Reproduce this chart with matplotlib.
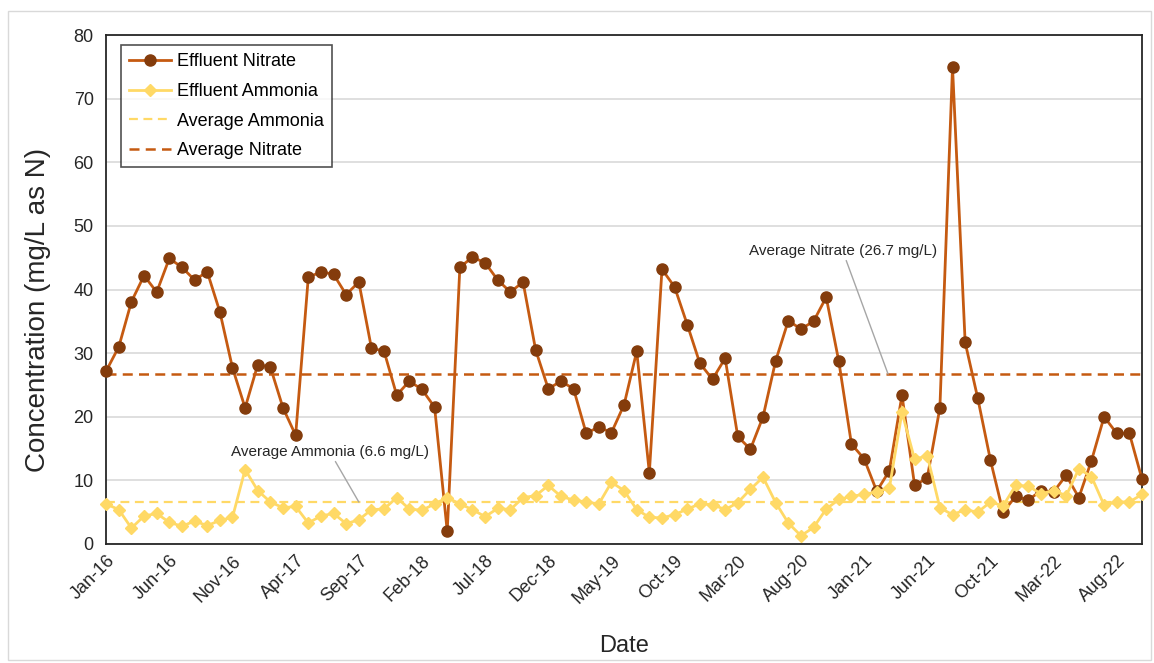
import matplotlib.pyplot as plt
from matplotlib.patches import Rectangle

# monthly effluent data (mg/L as N)
nitrate = [27.2, 31.0, 38.1, 42.2, 39.6, 44.9, 43.5, 41.5, 42.8, 36.5,
           27.7, 21.4, 28.2, 27.8, 21.4, 17.1, 41.9, 42.8, 42.4, 39.2,
           41.2, 30.8, 30.3, 23.4, 25.6, 24.3, 21.5, 2.0, 43.5, 45.1,
           44.2, 41.5, 39.6, 41.2, 30.5, 24.4, 25.6, 24.4, 17.4, 18.4,
           17.5, 21.9, 30.3, 11.2, 43.2, 40.4, 34.5, 28.4, 25.9, 29.2,
           16.9, 14.9, 20.0, 28.8, 35.1, 33.8, 35.0, 38.8, 28.7, 15.7,
           13.4, 8.3, 11.5, 23.4, 9.2, 10.4, 21.4, 75.0, 31.7, 22.9,
           13.2, 5.0, 7.5, 6.9, 8.4, 8.2, 10.8, 7.3, 13.1, 20.0,
           17.4, 17.4, 10.2]
ammonia = [6.3, 5.4, 2.5, 4.4, 4.8, 3.4, 2.8, 3.6, 2.9, 3.7,
           4.2, 11.7, 8.4, 6.6, 5.7, 5.9, 3.3, 4.4, 4.8, 3.2,
           3.8, 5.4, 5.5, 7.3, 5.5, 5.3, 6.3, 7.3, 6.3, 5.4,
           4.3, 5.6, 5.4, 7.3, 7.6, 9.2, 7.5, 6.9, 6.6, 6.3,
           9.7, 8.4, 5.4, 4.2, 4.1, 4.6, 5.5, 6.3, 6.2, 5.4,
           6.5, 8.6, 10.5, 6.5, 3.3, 1.3, 2.6, 5.5, 7.0, 7.5,
           7.8, 8.2, 8.8, 20.7, 13.3, 13.9, 5.7, 4.6, 5.4, 5.0,
           6.6, 6.0, 9.2, 9.1, 7.9, 8.4, 7.6, 11.8, 10.6, 6.1,
           6.6, 6.6, 7.8]
avg_nitrate = 26.7
avg_ammonia = 6.6

tick_labels = ["Jan-16", "Jun-16", "Nov-16", "Apr-17", "Sep-17", "Feb-18",
               "Jul-18", "Dec-18", "May-19", "Oct-19", "Mar-20", "Aug-20",
               "Jan-21", "Jun-21", "Oct-21", "Mar-22", "Aug-22"]

plt.rcParams['font.family'] = ['Liberation Sans', 'DejaVu Sans']

fig = plt.figure(figsize=(11.54, 6.63), dpi=100)
ax = fig.add_axes([0.092, 0.1795, 0.8976, 0.7675])

# light chart-area border
fig.patches.append(Rectangle((0.007, 0.004), 0.99, 0.98, transform=fig.transFigure,
                             fill=False, edgecolor='#d9d9d9', linewidth=1))

x = list(range(len(nitrate)))
n = len(nitrate)

ax.plot(x, nitrate, color='#c55a11', linewidth=2, marker='o', markersize=8,
        markerfacecolor='#843c0c', markeredgecolor='#843c0c',
        label='Effluent Nitrate', zorder=3, clip_on=False)
ax.plot(x, ammonia, color='#ffd966', linewidth=2, marker='D', markersize=6.5,
        markerfacecolor='#ffd966', markeredgecolor='#ffd966',
        label='Effluent Ammonia', zorder=4, clip_on=False)
ax.plot([0, n - 1], [avg_ammonia, avg_ammonia], color='#ffd966', linewidth=1.6,
        linestyle=(0, (4, 2.5)), label='Average Ammonia', zorder=2)
ax.plot([0, n - 1], [avg_nitrate, avg_nitrate], color='#c55a11', linewidth=1.8,
        linestyle=(0, (4, 2.5)), label='Average Nitrate', zorder=2)

# annotations for averages
ax.annotate(f"Average Nitrate ({avg_nitrate} mg/L)", xy=(61.9, avg_nitrate),
            xytext=(58.3, 45.0), ha='center', va='bottom', fontsize=11,
            color='#262626',
            arrowprops=dict(arrowstyle='-', color='#a6a6a6', linewidth=1,
                            shrinkA=0, shrinkB=0))
ax.annotate(f"Average Ammonia ({avg_ammonia} mg/L)", xy=(20.0, avg_ammonia),
            xytext=(17.7, 13.4), ha='center', va='bottom', fontsize=11,
            color='#262626',
            arrowprops=dict(arrowstyle='-', color='#a6a6a6', linewidth=1,
                            shrinkA=0, shrinkB=0))

ax.set_xlim(0, n - 1)
ax.set_ylim(0, 80)
ax.set_yticks(range(0, 81, 10))
ax.set_xticks(range(0, 5 * len(tick_labels), 5))
ax.set_xticklabels(tick_labels, rotation=45, ha='right', rotation_mode='anchor')
ax.tick_params(axis='both', labelsize=13, length=0, colors='#262626')
ax.tick_params(axis='x', pad=6)
ax.tick_params(axis='y', pad=9)

ax.grid(axis='y', color='#d9d9d9', linewidth=1.2)
ax.set_axisbelow(True)
for s in ax.spines.values():
    s.set_color('#262626')
    s.set_linewidth(1.3)

ax.set_xlabel("Date", fontsize=17, color='#262626', labelpad=20)
ax.set_ylabel("Concentration (mg/L as N)", fontsize=20, color='#262626')
ax.yaxis.set_label_coords(-0.053, 0.46)

leg = ax.legend(loc='upper left', fontsize=13, frameon=True, fancybox=False,
                edgecolor='#262626', handlelength=2.3, handletextpad=0.35,
                borderpad=0.45, labelspacing=0.7, borderaxespad=0,
                bbox_to_anchor=(0.0145, 0.98))
leg.get_frame().set_linewidth(1.2)

fig.savefig("out.png", dpi=100)
